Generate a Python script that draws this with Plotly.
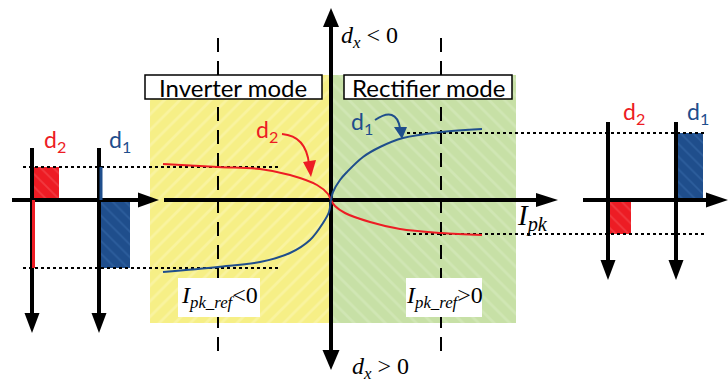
import math
import plotly.graph_objects as go

W, H = 728, 383

# Operating curves d1(I_pk), d2(I_pk) in drawing units (x grows right, y grows down)
d1_x = [163, 218, 260, 290, 310, 323, 329, 331, 333, 340, 347, 363, 380, 403, 441, 482]
d1_y = [272, 267, 262, 253, 240, 223, 212, 200, 192, 180, 172, 157, 147, 138, 132, 129]
d2_x = [163, 218, 260, 290, 317, 328, 331, 335, 345, 370, 400, 441, 482]
d2_y = [164, 167, 169, 175, 185, 194, 200, 206, 213, 222, 229, 233, 235]

# Zero level of the duty axes
zero_y = 200

# Duty-cycle bars of the side panels: (left, right, top, bottom, colour key)
left_bars = [(32, 59, 167, 200, "red"), (99, 130, 200, 268, "blue")]
right_bars = [(608, 631, 200, 234, "red"), (676, 703, 133, 200, "blue")]

# Shaded operating regions: (left, right, top, bottom)
inverter_region = (150, 331, 75, 323)
rectifier_region = (331, 516, 75, 323)

# Reference current markers
iref_neg_x, iref_pos_x = 218, 441

RED = "#ED1C24"
BLUE = "#1F4E8C"
BAR_STYLE = {
    "red": dict(color=RED, fg="#F5555A"),
    "blue": dict(color=BLUE, fg="#3B6DAD"),
}

SANS = "Lato"
SERIF = "Liberation Serif"

fig = go.Figure()


def rect_bar(x0, x1, y0, y1, color, fg, shape, size, solidity):
    fig.add_trace(go.Bar(
        x=[(x0 + x1) / 2], y=[y1 - y0], base=[y0], width=[x1 - x0],
        marker=dict(color=color, line_width=0,
                    pattern=dict(shape=shape, fgcolor=fg, bgcolor=color,
                                 size=size, solidity=solidity)),
        hoverinfo="skip",
    ))


def seg(xs, ys, color="black", width=2, dash=None):
    fig.add_trace(go.Scatter(x=xs, y=ys, mode="lines",
                             line=dict(color=color, width=width, dash=dash),
                             hoverinfo="skip"))


def arrow(x0, y0, x1, y1, lw=4, hl=21, hw=7.5, color="black"):
    dx, dy = x1 - x0, y1 - y0
    L = math.hypot(dx, dy)
    ux, uy = dx / L, dy / L
    bx, by = x1 - hl * ux, y1 - hl * uy
    nx, ny = -uy, ux
    seg([x0, bx + 2 * ux], [y0, by + 2 * uy], color, lw)
    fig.add_trace(go.Scatter(
        x=[x1, bx + hw * nx, bx - hw * nx, x1],
        y=[y1, by + hw * ny, by - hw * ny, y1],
        mode="lines", fill="toself", fillcolor=color,
        line=dict(color=color, width=0), hoverinfo="skip"))


# shaded regions with diagonal hatching
rect_bar(*inverter_region, "#F6EF86", "#FBF7B8", "/", 11, 0.25)
rect_bar(*rectifier_region, "#C7E0A6", "#D9EBC2", "\\", 11, 0.25)

# duty-cycle bars in the side panels
for x0, x1, y0, y1, key in left_bars + right_bars:
    st = BAR_STYLE[key]
    rect_bar(x0, x1, y0, y1, st["color"], st["fg"], "\\", 9, 0.2)

# dashed reference-current markers
for xr in (iref_neg_x, iref_pos_x):
    seg([xr, xr], [38, 357], "black", 2, "14px,9px")

# dotted level guides
dot = "3px,3px"
seg([23, 280], [d2_y[1], d2_y[1]], "black", 2, dot)
seg([23, 280], [268, 268], "black", 2, dot)
seg([407, 705], [133, 133], "black", 2, dot)
seg([407, 705], [234, 234], "black", 2, dot)

# axes
arrow(12, zero_y, 159, zero_y, hl=21, hw=7.5)
arrow(164, zero_y, 558, zero_y, hl=22, hw=7)
arrow(583, zero_y, 728, zero_y, hl=22, hw=7.5)
arrow(331, zero_y, 331, 8, hl=19, hw=8)
arrow(331, zero_y, 331, 370, hl=20, hw=8.5)
for xa, ytop, ybot in [(32, 148, 333), (99, 148, 333), (608, 122, 280), (676, 122, 280)]:
    arrow(xa, ytop, xa, ybot, hl=20, hw=7.5)

# thin duty traces riding on the left panel axes
seg([101, 101], [167, 200], BLUE, 3)
seg([33.5, 33.5], [200, 268], RED, 3)

# operating curves
fig.add_trace(go.Scatter(x=d2_x, y=d2_y, mode="lines",
                         line=dict(color=RED, width=2, shape="spline"), hoverinfo="skip"))
fig.add_trace(go.Scatter(x=d1_x, y=d1_y, mode="lines",
                         line=dict(color=BLUE, width=2, shape="spline"), hoverinfo="skip"))

# curved pointer arrows from the curve labels
shapes = [
    dict(type="path", path="M 282,134 Q 306,136 309,164",
         line=dict(color=RED, width=2)),
    dict(type="path", path="M 375,120 Q 396,106 400,128",
         line=dict(color=BLUE, width=2)),
    dict(type="path", path="M 303,162 L 316,160 L 311,177 Z",
         fillcolor=RED, line=dict(color=RED, width=0)),
    dict(type="path", path="M 394,127 L 407,127 L 402,139 Z",
         fillcolor=BLUE, line=dict(color=BLUE, width=0)),
    # mode boxes
    dict(type="rect", x0=145, x1=322, y0=75, y1=99, fillcolor="white",
         line=dict(color="black", width=1.5)),
    dict(type="rect", x0=344, x1=512, y0=75, y1=99, fillcolor="white",
         line=dict(color="black", width=1.5)),
    # reference-current label boxes
    dict(type="rect", x0=178, x1=260, y0=278, y1=317, fillcolor="white",
         line=dict(width=0)),
    dict(type="rect", x0=406, x1=482, y0=278, y1=317, fillcolor="white",
         line=dict(width=0)),
]
for s in shapes:
    s.update(xref="x", yref="y", layer="above")


def label(x, y, text, size, color="black", family=SANS, xanchor="center"):
    fig.add_annotation(x=x, y=y, xref="x", yref="y", text=text, showarrow=False,
                       font=dict(family=family, size=size, color=color),
                       xanchor=xanchor, yanchor="middle")


label(233, 87, "Inverter mode", 24)
label(428, 87, "Rectifier mode", 24)

label(55, 140, "d<sub>2</sub>", 23, RED)
label(120, 140, "d<sub>1</sub>", 23, BLUE)
label(634, 112, "d<sub>2</sub>", 23, RED)
label(698, 112, "d<sub>1</sub>", 23, BLUE)
label(267, 130, "d<sub>2</sub>", 23, RED)
label(362, 122, "d<sub>1</sub>", 23, BLUE)

label(339, 37, "<i>d</i><sub><i>x</i></sub> &lt; 0", 24, family=SERIF, xanchor="left")
label(350, 368, "<i>d</i><sub><i>x</i></sub> &gt; 0", 24, family=SERIF, xanchor="left")
label(515, 217, "<i>I</i><sub><i>pk</i></sub>", 29, family=SERIF, xanchor="left")
label(219, 297, "<i>I</i><sub><i>pk_ref</i></sub>&lt;0", 24, family=SERIF)
label(444, 297, "<i>I</i><sub><i>pk_ref</i></sub>&gt;0", 24, family=SERIF)

fig.update_layout(
    width=W, height=H,
    margin=dict(l=0, r=0, t=0, b=0),
    paper_bgcolor="white", plot_bgcolor="white",
    showlegend=False, barmode="overlay",
    shapes=shapes,
    xaxis=dict(range=[0, W], visible=False, fixedrange=True),
    yaxis=dict(range=[H, 0], visible=False, fixedrange=True),
)

fig.write_html("out.html")
